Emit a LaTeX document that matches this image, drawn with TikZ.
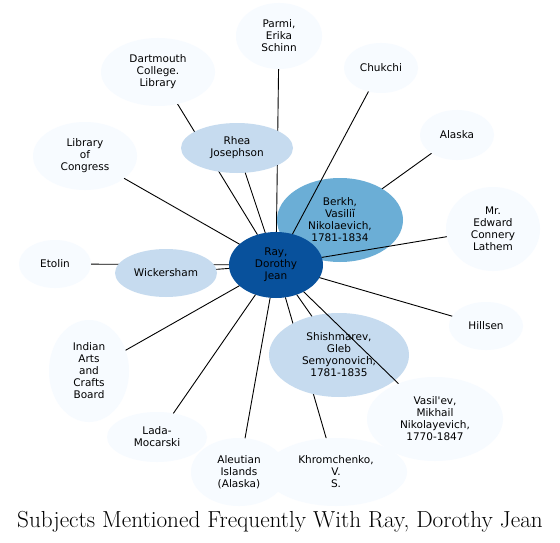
\documentclass[tikz,border=0pt]{standalone}
\usepackage{fontspec}
\newfontfamily\nodefont{DejaVu Sans}
\usetikzlibrary{shapes.geometric}
\pgfdeclarelayer{bg}
\pgfdeclarelayer{fg}
\pgfsetlayers{bg,main,fg}
\definecolor{cdark}{HTML}{08519C}
\definecolor{cmid}{HTML}{6BAED6}
\definecolor{clight}{HTML}{C6DBEF}
\definecolor{cpale}{HTML}{F7FBFF}
\tikzset{
  ent/.style={ellipse, inner sep=-6pt, outer sep=0pt, align=center, draw=none,
    font=\nodefont\fontsize{10.5}{12}\selectfont},
  edark/.style={ent, fill=cdark},
  emid/.style={ent, fill=cmid},
  elight/.style={ent, fill=clight},
  epale/.style={ent, fill=cpale},
  link/.style={draw=black, line width=0.9pt},
}
\begin{document}
\begin{tikzpicture}[x=1pt, y=-1pt]
\useasboundingbox (0,0) rectangle (560,543);
% nodes
\node[emid, minimum width=126, minimum height=84] (berkh) at (340,220) {Berkh,\\Vasiliĭ\\Nikolaevich,\\1781-1834};
\node[edark, minimum width=94, minimum height=66] (ray) at (276,265) {Ray,\\Dorothy\\Jean};
\node[elight, minimum width=112, minimum height=50] (rhea) at (237,148) {Rhea\\Josephson};
\node[elight, minimum width=102, minimum height=48] (wick) at (166,273) {Wickersham};
\node[elight, minimum width=140, minimum height=84] (shish) at (339,355) {Shishmarev,\\Gleb\\Semyonovich,\\1781-1835};
\node[epale, minimum width=72, minimum height=48] (etolin) at (55,264) {Etolin};
\node[epale, minimum width=136, minimum height=84] (vasil) at (435,419) {Vasil'ev,\\Mikhail\\Nikolayevich,\\1770-1847};
\node[epale, minimum width=96, minimum height=68] (aleut) at (239,472) {Aleutian\\Islands\\(Alaska)};
\node[epale, minimum width=142, minimum height=68] (khrom) at (336,472) {Khromchenko,\\V.\\S.};
\node[epale, minimum width=100, minimum height=50] (lada) at (157,437) {Lada-\\Mocarski};
\node[epale, minimum width=80, minimum height=102] (indian) at (89,371) {Indian\\Arts\\and\\Crafts\\Board};
\node[epale, minimum width=104, minimum height=68] (loc) at (85,156) {Library\\of\\Congress};
\node[epale, minimum width=114, minimum height=68] (dart) at (158,72) {Dartmouth\\College.\\Library};
\node[epale, minimum width=86, minimum height=66] (parmi) at (279,36) {Parmi,\\Erika\\Schinn};
\node[epale, minimum width=74, minimum height=50] (chukchi) at (381,68) {Chukchi};
\node[epale, minimum width=74, minimum height=50] (alaska) at (457,135) {Alaska};
\node[epale, minimum width=94, minimum height=84] (edward) at (493,229) {Mr.\\Edward\\Connery\\Lathem};
\node[epale, minimum width=74, minimum height=48] (hillsen) at (486,326) {Hillsen};
% edges under nodes
\begin{pgfonlayer}{bg}
\fill[white] (0,0) rectangle (560,543);
\draw[link] (ray) -- (dart);
\draw[link] (ray) -- (etolin);
\draw[link] (ray) -- (parmi);
\draw[link] (ray) -- (alaska);
\draw[link] (ray) -- (khrom);
\end{pgfonlayer}
% edges over nodes
\begin{pgfonlayer}{fg}
\draw[link] (ray) -- (chukchi);
\draw[link] (ray) -- (edward);
\draw[link] (ray) -- (vasil);
\draw[link] (ray) -- (rhea);
\draw[link] (ray) -- (loc);
\draw[link] (ray) -- (wick);
\draw[link] (ray) -- (indian);
\draw[link] (ray) -- (lada);
\draw[link] (ray) -- (aleut);
\draw[link] (ray) -- (shish);
\draw[link] (ray) -- (hillsen);
\end{pgfonlayer}
\node[anchor=base, inner sep=0pt, font=\fontsize{23.2}{26}\selectfont] (title) at (280,527) {Subjects Mentioned Frequently With Ray, Dorothy Jean};
\end{tikzpicture}
\end{document}
